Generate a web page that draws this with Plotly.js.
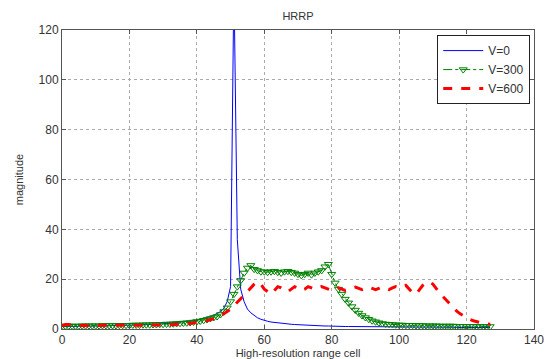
<!DOCTYPE html>
<html>
<head>
<meta charset="utf-8">
<script src="https://cdn.plot.ly/plotly-3.0.1.min.js"></script>
<style>html,body{margin:0;padding:0;background:#fff;}#chart{width:549px;height:359px;}</style>
</head>
<body>
<div id="chart"></div>
<script>
// range cell index 0..127
const cells = Array.from({length: 128}, (_, i) => i);

const seriesNames = ["V=0", "V=300", "V=600"];

// V=0
const v0 = [
  1.0,1.0,1.0,1.0,1.1,1.1,1.1,1.1,1.2,1.2,
  1.2,1.2,1.3,1.3,1.3,1.4,1.4,1.4,1.5,1.5,
  1.5,1.6,1.6,1.7,1.7,1.8,1.8,1.9,2.0,2.0,
  2.1,2.2,2.3,2.4,2.5,2.6,2.8,2.9,3.1,3.3,
  3.5,3.8,4.1,4.5,5.0,5.5,6.2,7.0,8.3,11.0,
  17.0,140.0,36.0,16.0,11.0,8.0,6.5,5.3,4.5,3.9,
  3.4,3.1,2.8,2.6,2.4,2.2,2.1,2.0,1.9,1.8,
  1.7,1.6,1.5,1.5,1.4,1.4,1.3,1.3,1.2,1.2,
  1.1,1.1,1.1,1.1,1.0,1.0,1.0,1.0,1.0,0.9,
  0.9,0.9,0.9,0.9,0.9,0.9,0.8,0.8,0.8,0.8,
  0.8,0.8,0.8,0.8,0.8,0.7,0.7,0.7,0.7,0.7,
  0.7,0.7,0.7,0.7,0.7,0.7,0.7,0.6,0.6,0.6,
  0.6,0.6,0.6,0.6,0.6,0.6,0.6,0.6
];

// V=300
const v300 = [
  1.2,1.2,1.2,1.2,1.2,1.2,1.3,1.3,1.3,1.3,
  1.3,1.3,1.4,1.4,1.4,1.4,1.4,1.5,1.5,1.5,
  1.5,1.6,1.6,1.6,1.7,1.7,1.7,1.8,1.8,1.9,
  1.9,2.0,2.0,2.1,2.2,2.3,2.4,2.5,2.6,2.8,
  3.0,3.2,3.5,3.8,4.2,4.6,5.0,5.8,7.0,8.5,
  11.0,14.0,17.0,19.5,22.5,24.5,25.5,24.0,23.5,23.0,
  23.0,22.8,23.0,23.2,22.8,22.5,23.0,23.2,22.8,22.5,
  22.0,21.5,22.0,22.5,21.8,22.5,23.0,23.5,25.0,26.0,
  22.0,18.5,16.0,14.0,12.0,10.5,9.0,7.6,6.4,5.4,
  4.6,3.9,3.3,2.9,2.5,2.2,2.0,1.9,1.8,1.7,
  1.6,1.6,1.5,1.5,1.5,1.4,1.4,1.4,1.3,1.3,
  1.3,1.3,1.2,1.2,1.2,1.2,1.2,1.1,1.1,1.1,
  1.1,1.1,1.1,1.0,1.0,1.0,1.0,1.0
];

// V=600
const v600 = [
  1.3,1.8,1.8,1.5,1.4,1.4,1.4,1.3,1.3,1.3,
  1.3,1.3,1.3,1.3,1.3,1.3,1.4,1.4,1.4,1.4,
  1.4,1.4,1.4,1.4,1.5,1.5,1.5,1.5,1.5,1.6,
  1.6,1.6,1.7,1.7,1.8,1.9,2.0,2.1,2.2,2.4,
  2.6,2.8,3.0,3.3,3.6,4.0,4.5,5.2,6.0,7.0,
  8.0,9.3,10.5,12.0,13.5,15.0,16.5,18.0,19.0,18.0,
  16.0,15.0,14.0,15.5,17.0,16.5,15.5,15.0,16.0,17.0,
  16.5,15.5,16.0,17.0,16.5,16.0,16.5,17.0,16.5,16.0,
  15.5,16.0,16.5,16.0,15.5,15.8,16.5,16.8,16.2,15.8,
  16.3,16.8,16.3,15.8,16.3,16.8,16.3,15.8,16.5,17.0,
  16.5,16.8,17.5,16.0,14.5,14.0,16.0,17.5,18.5,19.0,
  18.0,16.0,14.5,13.0,11.5,10.0,8.5,7.3,6.2,5.3,
  4.5,3.8,3.3,2.9,2.5,2.3,2.1,1.9
];

const xTicks = [0, 20, 40, 60, 80, 100, 120, 140];
const yTicks = [0, 20, 40, 60, 80, 100, 120];

const traces = [
  {x: cells, y: v0, name: seriesNames[0], type: 'scatter', mode: 'lines',
   line: {color: '#0000ff', width: 1}},
  {x: cells, y: v300, name: seriesNames[1], type: 'scatter', mode: 'lines+markers',
   line: {color: '#008000', width: 1, dash: 'dashdot'},
   marker: {symbol: 'triangle-down-open', size: 7, color: '#008000', line: {width: 1}}},
  {x: cells, y: v600, name: seriesNames[2], type: 'scatter', mode: 'lines',
   line: {color: '#ff0000', width: 3, dash: 'dash'}}
];

const fontFam = 'Liberation Sans, Arial, sans-serif';
const axisCommon = {
  showline: true, linecolor: '#555', linewidth: 1, mirror: 'ticks',
  ticks: 'inside', ticklen: 4, tickcolor: '#555',
  showgrid: true, gridcolor: '#aaa', griddash: 'dot', gridwidth: 1,
  zeroline: false, tickfont: {family: fontFam, size: 12, color: '#333'}
};

const layout = {
  width: 549, height: 359,
  margin: {l: 62, r: 15, t: 30, b: 30},
  paper_bgcolor: '#fff', plot_bgcolor: '#fff',
  font: {family: fontFam, color: '#333'},
  title: {text: 'HRRP', font: {family: fontFam, size: 11, color: '#333'},
          x: 0.5, xref: 'paper', xanchor: 'center', y: 0.965, yref: 'container'},
  xaxis: Object.assign({}, axisCommon, {
    range: [0, 140], tickvals: xTicks, ticktext: xTicks.map(String),
    title: {text: 'High-resolution range cell', font: {family: fontFam, size: 11, color: '#333'}, standoff: 3}
  }),
  yaxis: Object.assign({}, axisCommon, {
    range: [0, 120], tickvals: yTicks, ticktext: yTicks.map(String),
    title: {text: 'magnitude', font: {family: fontFam, size: 11, color: '#333'}, standoff: 12}
  }),
  showlegend: true,
  legend: {x: 0.992, y: 0.983, xanchor: 'right', yanchor: 'top',
           bgcolor: '#fff', bordercolor: '#222', borderwidth: 1,
           font: {family: fontFam, size: 12, color: '#333'},
           tracegroupgap: 0, itemwidth: 40}
};

Plotly.newPlot('chart', traces, layout, {displayModeBar: false, staticPlot: true});
</script>
</body>
</html>
